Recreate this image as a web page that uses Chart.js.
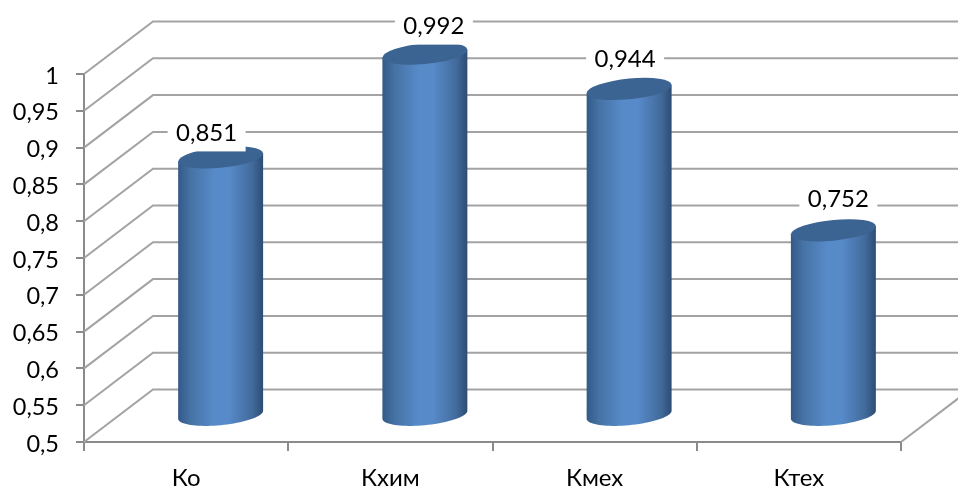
<!DOCTYPE html>
<html>
<head>
<meta charset="utf-8">
<script src="https://cdn.jsdelivr.net/npm/chart.js@4"></script>
<style>
  html, body { margin: 0; padding: 0; background: #fff; overflow: hidden; }
  canvas { display: block; }
</style>
</head>
<body>
<canvas id="chart" width="958" height="487"></canvas>
<script>
const categories = ['Ко', 'Кхим', 'Кмех', 'Ктех'];
const values = [0.851, 0.992, 0.944, 0.752];

// the 3d box of the excel chart: how far the back wall sits from the front axes
const depthX = 69;
const depthY = -52.5;
const labelFont = '24px Lato';

const comma = v => String(Math.round(v * 1000) / 1000).replace('.', ',');

function capPath(ctx, cx, cy, a, b, tilt) {
  ctx.save();
  ctx.transform(1, -tilt / a, 0, 1, cx, cy);
  ctx.beginPath();
  ctx.ellipse(0, 0, a, b, 0, 0, Math.PI * 2);
  ctx.restore();
}

const walls = {
  id: 'walls',
  beforeDatasetsDraw(chart) {
    const ctx = chart.ctx;
    const area = chart.chartArea;
    const y = chart.scales.y;
    ctx.save();
    ctx.strokeStyle = '#a3a3a3';
    ctx.lineWidth = 2;
    y.ticks.forEach(t => {
      const py = y.getPixelForValue(t.value);
      ctx.beginPath();
      ctx.moveTo(area.left, py);
      ctx.lineTo(area.left + depthX, py + depthY);
      ctx.lineTo(chart.width, py + depthY);
      ctx.stroke();
    });
    // floor edge on the right
    ctx.beginPath();
    ctx.moveTo(area.right, area.bottom);
    ctx.lineTo(area.right + depthX, area.bottom + depthY);
    ctx.stroke();
    ctx.restore();
  }
};

const cylinders = {
  id: 'cylinders',
  afterDatasetsDraw(chart) {
    const ctx = chart.ctx;
    chart.getDatasetMeta(0).data.forEach(bar => {
      const cx = bar.x + depthX / 2;
      const top = bar.y + depthY / 2;
      const base = bar.base + depthY / 2;
      const a = bar.width / 2;
      const b = 10.4;
      const tilt = 4;
      const k = -tilt / a;

      const body = ctx.createLinearGradient(cx - a, 0, cx + a, 0);
      body.addColorStop(0, '#335a88');
      body.addColorStop(0.15, '#4673a5');
      body.addColorStop(0.42, '#578ac9');
      body.addColorStop(0.6, '#578ac9');
      body.addColorStop(0.87, '#426b9c');
      body.addColorStop(1, '#2d4c74');

      ctx.save();
      ctx.fillStyle = body;
      ctx.beginPath();
      ctx.moveTo(cx - a, top + tilt);
      ctx.lineTo(cx - a, base + tilt);
      for (let t = 0; t <= 40; t++) {
        const ang = Math.PI - Math.PI * t / 40;
        const dx = a * Math.cos(ang);
        ctx.lineTo(cx + dx, base + k * dx + b * Math.sin(ang));
      }
      ctx.lineTo(cx + a, top - tilt);
      ctx.closePath();
      ctx.fill();

      capPath(ctx, cx, top, a, b, tilt);
      ctx.fillStyle = '#3c6492';
      ctx.fill();
      ctx.restore();
    });
  },
  afterDraw(chart) {
    const ctx = chart.ctx;
    // labels were dragged by hand in the original, so each has its own nudge
    const nudge = [[-14, -24], [9, -27], [-4, -30], [5, -31]];
    ctx.save();
    ctx.font = labelFont;
    ctx.textAlign = 'center';
    ctx.textBaseline = 'middle';
    chart.getDatasetMeta(0).data.forEach((bar, i) => {
      const x = bar.x + depthX / 2 + nudge[i][0];
      const y = bar.y + depthY / 2 + nudge[i][1];
      ctx.fillStyle = '#fff';
      ctx.fillRect(x - 39, y - 18, 78, 36);
      ctx.fillStyle = '#000';
      ctx.fillText(comma(values[i]), x, y);
    });
    ctx.restore();
  }
};

new Chart(document.getElementById('chart'), {
  type: 'bar',
  data: {
    labels: categories,
    datasets: [{
      data: values,
      base: 0.5,
      backgroundColor: 'transparent',
      categoryPercentage: 1,
      barPercentage: 0.416
    }]
  },
  plugins: [walls, cylinders],
  options: {
    responsive: false,
    animation: false,
    layout: { padding: { top: 74, right: 57 } },
    plugins: { legend: { display: false }, tooltip: { enabled: false } },
    scales: {
      x: {
        afterFit(axis) { axis.height = 45; },
        grid: { drawOnChartArea: false, color: '#8a8a8a', lineWidth: 2, tickLength: 9 },
        border: { color: '#8a8a8a', width: 2 },
        ticks: { color: '#000', font: { family: 'Lato', size: 24 }, padding: 13, maxRotation: 0 }
      },
      y: {
        min: 0.5,
        max: 1,
        afterFit(axis) { axis.width = 84; },
        grid: { drawOnChartArea: false, color: '#8a8a8a', lineWidth: 2, tickLength: 8 },
        border: { color: '#8a8a8a', width: 2 },
        ticks: { stepSize: 0.05, color: '#000', font: { family: 'Lato', size: 23.5 }, padding: 17, labelOffset: 2, callback: comma }
      }
    }
  }
});
</script>
</body>
</html>
